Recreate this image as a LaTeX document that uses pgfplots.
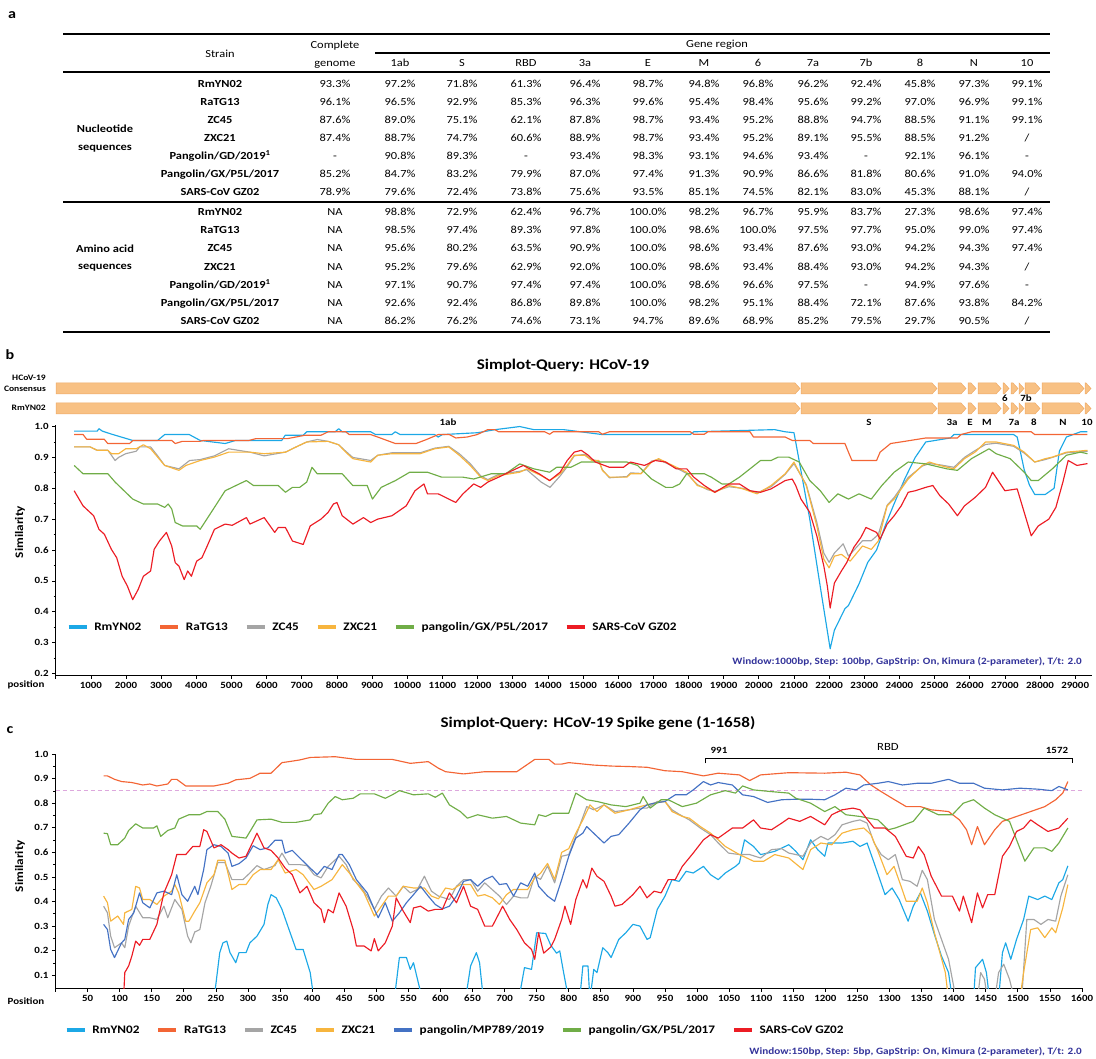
\documentclass[border=0pt]{standalone}
\usepackage{fontspec}
\setmainfont{Carlito}[FakeStretch=1.15]
\usepackage{pgfplots}
\pgfplotsset{compat=1.18}
\definecolor{cRm}{HTML}{1CA8E6}
\definecolor{cRa}{HTML}{F36535}
\definecolor{cZC}{HTML}{A5A5A5}
\definecolor{cZX}{HTML}{F7B53E}
\definecolor{cMP}{HTML}{4472C4}
\definecolor{cGX}{HTML}{70AD47}
\definecolor{cSA}{HTML}{EC1C24}
\definecolor{gfill}{HTML}{F8C184}
\definecolor{gedge}{HTML}{EEAA66}
\definecolor{wtext}{HTML}{33339A}
\definecolor{pinkd}{HTML}{DDA8DD}
\pgfplotsset{
 simplot/.style={
  scale only axis, anchor=south west,
  axis lines=left, axis line style={-, line width=0.9pt},
  tick align=outside, major tick length=3.5pt, minor tick length=2pt,
  tick style={black, line width=0.7pt},
  ticklabel style={font=\bfseries\fontsize{9.5}{11}\selectfont},
  scaled x ticks=false, scaled y ticks=false,
  /pgf/number format/assume math mode=true,
  every axis plot/.append style={line width=1.15pt, line join=round, mark=none},
  legend columns=-1,
  legend style={draw=none, fill=none, inner sep=0pt, font=\bfseries\fontsize{11.5}{13}\selectfont, anchor=west, /tikz/every odd column/.append style={column sep=4pt}, /tikz/every even column/.append style={column sep=15pt}, nodes={inner sep=1.5pt}},
  legend image code/.code={\draw[##1, line width=4.5pt] (0pt,0pt) -- (18pt,0pt);},
 }
}
\def\colx{{335,400,462,526,585,648,704,758,813,866,920,974,1027}}
\newcommand\trow[3]{\node[font=\bfseries\fontsize{10.8}{13}\selectfont] at (220,#1) {#2};
 \foreach \v [count=\i from 0] in {#3} {\pgfmathsetmacro\xx{\colx[\i]}\node at (\xx,#1) {\v};}}
\begin{document}
\begin{tikzpicture}
\useasboundingbox (0pt,0pt) rectangle (1096pt,-1059pt);
\begin{scope}[x=1pt,y=-1pt]
% ---------------- panel a : table
\node[font=\bfseries\fontsize{14}{16}\selectfont] at (12,15) {a};
\begin{scope}[every node/.style={inner sep=0pt, text height=7pt, text depth=2pt, font=\fontsize{10.8}{13}\selectfont}]
\draw[line width=1.6pt] (63,34) -- (1050,34);
\draw[line width=1.1pt] (375,53) -- (1050,53);
\draw[line width=1.3pt] (63,72) -- (1050,72);
\draw[line width=1.8pt] (63,202) -- (1050,202);
\draw[line width=1.8pt] (63,332) -- (1050,332);
\node at (220,55) {Strain};
\node at (335,46) {Complete};
\node at (335,64) {genome};
\node at (717,45) {Gene region};
\foreach \h [count=\i from 1] in {1ab,S,RBD,3a,E,M,6,7a,7b,8,N,10} {\pgfmathsetmacro\xx{\colx[\i]}\node at (\xx,64) {\h};}
\node[font=\bfseries\fontsize{10.8}{13}\selectfont] at (105,130) {Nucleotide};
\node[font=\bfseries\fontsize{10.8}{13}\selectfont] at (105,148) {sequences};
\node[font=\bfseries\fontsize{10.8}{13}\selectfont] at (105,250) {Amino acid};
\node[font=\bfseries\fontsize{10.8}{13}\selectfont] at (105,267) {sequences};
\trow{85}{RmYN02}{93.3\%,97.2\%,71.8\%,61.3\%,96.4\%,98.7\%,94.8\%,96.8\%,96.2\%,92.4\%,45.8\%,97.3\%,99.1\%}
\trow{103}{RaTG13}{96.1\%,96.5\%,92.9\%,85.3\%,96.3\%,99.6\%,95.4\%,98.4\%,95.6\%,99.2\%,97.0\%,96.9\%,99.1\%}
\trow{121}{ZC45}{87.6\%,89.0\%,75.1\%,62.1\%,87.8\%,98.7\%,93.4\%,95.2\%,88.8\%,94.7\%,88.5\%,91.1\%,99.1\%}
\trow{139}{ZXC21}{87.4\%,88.7\%,74.7\%,60.6\%,88.9\%,98.7\%,93.4\%,95.2\%,89.1\%,95.5\%,88.5\%,91.2\%,/}
\trow{157}{Pangolin/GD/2019\textsuperscript{1}}{-,90.8\%,89.3\%,-,93.4\%,98.3\%,93.1\%,94.6\%,93.4\%,-,92.1\%,96.1\%,-}
\trow{175}{Pangolin/GX/P5L/2017}{85.2\%,84.7\%,83.2\%,79.9\%,87.0\%,97.4\%,91.3\%,90.9\%,86.6\%,81.8\%,80.6\%,91.0\%,94.0\%}
\trow{193}{SARS-CoV GZ02}{78.9\%,79.6\%,72.4\%,73.8\%,75.6\%,93.5\%,85.1\%,74.5\%,82.1\%,83.0\%,45.3\%,88.1\%,/}
\trow{213}{RmYN02}{NA,98.8\%,72.9\%,62.4\%,96.7\%,100.0\%,98.2\%,96.7\%,95.9\%,83.7\%,27.3\%,98.6\%,97.4\%}
\trow{231}{RaTG13}{NA,98.5\%,97.4\%,89.3\%,97.8\%,100.0\%,98.6\%,100.0\%,97.5\%,97.7\%,95.0\%,99.0\%,97.4\%}
\trow{249}{ZC45}{NA,95.6\%,80.2\%,63.5\%,90.9\%,100.0\%,98.6\%,93.4\%,87.6\%,93.0\%,94.2\%,94.3\%,97.4\%}
\trow{268}{ZXC21}{NA,95.2\%,79.6\%,62.9\%,92.0\%,100.0\%,98.6\%,93.4\%,88.4\%,93.0\%,94.2\%,94.3\%,/}
\trow{286}{Pangolin/GD/2019\textsuperscript{1}}{NA,97.1\%,90.7\%,97.4\%,97.4\%,100.0\%,98.6\%,96.6\%,97.5\%,-,94.9\%,97.6\%,-}
\trow{304}{Pangolin/GX/P5L/2017}{NA,92.6\%,92.4\%,86.8\%,89.8\%,100.0\%,98.2\%,95.1\%,88.4\%,72.1\%,87.6\%,93.8\%,84.2\%}
\trow{322}{SARS-CoV GZ02}{NA,86.2\%,76.2\%,74.6\%,73.1\%,94.7\%,89.6\%,68.9\%,85.2\%,79.5\%,29.7\%,90.5\%,/}
\end{scope}
% ---------------- panel b header
\node[font=\bfseries\fontsize{14}{16}\selectfont] at (10,355) {b};
\node[font=\bfseries\fontsize{14.8}{17}\selectfont] at (563,365) {Simplot-Query: HCoV-19};
\begin{scope}[every node/.style={font=\bfseries\fontsize{9.5}{11}\selectfont, inner sep=0pt}]
\node[anchor=east, font=\bfseries\fontsize{8.3}{10}\selectfont] at (46,378) {HCoV-19};
\node[anchor=east, font=\bfseries\fontsize{8.3}{10}\selectfont] at (46,389) {Consensus};
\node[anchor=east, font=\bfseries\fontsize{8.3}{10}\selectfont] at (46,408) {RmYN02};
\foreach \a/\b in {56/800,801/937,938/966,968/976,978/1001,1003/1009,1011/1018,1019/1024,1025/1040,1042/1084,1085/1091}{
 \filldraw[fill=gfill, draw=gedge, line width=0.5pt] (\a,383) -- ({\b-5},383) -- (\b,388.5) -- ({\b-5},394) -- (\a,394) -- cycle;
 \filldraw[fill=gfill, draw=gedge, line width=0.5pt] (\a,403) -- ({\b-5},403) -- (\b,408.5) -- ({\b-5},414) -- (\a,414) -- cycle;}
\foreach \g/\x in {1ab/448,S/869,3a/952,E/970,M/987,7a/1014,8/1034,N/1063,10/1087} {\node at (\x,422) {\g};}
\node at (1005,398) {6};
\node at (1026,398) {7b};
\node[font=\bfseries\fontsize{11.5}{13}\selectfont, rotate=90] at (20,532) {Similarity};
\node at (26,685) {position};
\node[font=\bfseries\fontsize{9.7}{11}\selectfont, text=wtext, anchor=east] at (1082,662) {Window:1000bp, Step: 100bp, GapStrip: On, Kimura (2-parameter), T/t: 2.0};
% panel c header
\node[font=\bfseries\fontsize{14}{16}\selectfont] at (10,730) {c};
\node[font=\bfseries\fontsize{14.8}{17}\selectfont] at (598,723) {Simplot-Query: HCoV-19 Spike gene (1-1658)};
\node[font=\bfseries\fontsize{11.5}{13}\selectfont, rotate=90] at (20,866) {Similarity};
\node at (26,1001) {Position};
\node at (719,750) {991};
\node at (1057,750) {1572};
\node[font=\fontsize{11}{13}\selectfont] at (888,747) {RBD};
\node[font=\bfseries\fontsize{9.7}{11}\selectfont, text=wtext, anchor=east] at (1082,1052) {Window:150bp, Step: 5bp, GapStrip: On, Kimura (2-parameter), T/t: 2.0};
\end{scope}
\end{scope}
% ================= panel b axis
\begin{axis}[simplot, at={(55.7pt,-675pt)}, width=1036pt, height=250pt,
 xmin=0, xmax=29470, ymin=0.195, ymax=1.005,
 xtick={0,1000,...,29000},
 xticklabels={{},1000,2000,3000,4000,5000,6000,7000,8000,9000,10000,11000,12000,13000,14000,15000,16000,17000,18000,19000,20000,21000,22000,23000,24000,25000,26000,27000,28000,29000},
 ytick={0.2,0.3,0.4,0.5,0.6,0.7,0.8,0.9,1.0},
 yticklabels={0.2,0.3,0.4,0.5,0.6,0.7,0.8,0.9,1.0},
 minor y tick num=1,
 legend style={at={(rel axis cs:0.010,0.192)}},
 legend entries={RmYN02,RaTG13,ZC45,ZXC21,pangolin/GX/P5L/2017,SARS-CoV GZ02},
]
\addplot[cRm] coordinates {(525,0.985)(1180,0.985)(1230,0.993)(1330,0.985)(1600,0.975)(2190,0.955)(2900,0.955)(3100,0.974)(3800,0.974)(4110,0.955)(4820,0.945)(5120,0.955)(6430,0.955)(6530,0.972)(7040,0.972)(7140,0.983)(7950,0.983)(8050,0.993)(8150,0.983)(8960,0.983)(9100,0.974)(9560,0.974)(9660,0.983)(9800,0.974)(10780,0.974)(10880,0.966)(11000,0.974)(12000,0.980)(12500,0.990)(13200,1.000)(13600,0.990)(14450,0.990)(15550,0.974)(18050,0.974)(18150,0.983)(20450,0.990)(20750,0.983)(21000,0.980)(21050,0.950)(21450,0.700)(21750,0.480)(22030,0.280)(22150,0.340)(22450,0.410)(22550,0.420)(22850,0.490)(23100,0.560)(23350,0.600)(23600,0.680)(23850,0.750)(24150,0.830)(24450,0.900)(24750,0.950)(25450,0.963)(25550,0.974)(27250,0.974)(27350,0.966)(27400,0.940)(27550,0.860)(27700,0.810)(27850,0.780)(28150,0.780)(28400,0.800)(28550,0.920)(28750,0.966)(29150,0.983)(29350,0.983)};
\addplot[cRa] coordinates {(525,0.974)(780,0.974)(880,0.959)(1380,0.959)(1480,0.945)(2100,0.945)(2200,0.955)(3300,0.955)(3400,0.945)(3600,0.952)(4100,0.952)(4200,0.955)(5500,0.955)(5700,0.961)(6600,0.961)(7100,0.972)(7550,0.972)(7750,0.983)(8250,0.983)(8350,0.974)(8960,0.974)(9160,0.966)(9660,0.945)(10250,0.945)(10570,0.959)(10880,0.974)(11200,0.974)(11380,0.963)(11700,0.966)(11990,0.974)(12290,0.990)(12490,0.990)(12600,0.983)(13910,0.983)(14050,0.975)(14150,0.983)(15450,0.983)(15550,0.975)(15750,0.983)(18050,0.983)(18150,0.975)(18450,0.975)(18550,0.983)(19750,0.983)(19850,0.966)(20750,0.966)(20950,0.955)(21450,0.955)(21550,0.945)(22450,0.945)(22550,0.917)(22650,0.890)(23350,0.890)(23450,0.917)(23750,0.945)(24150,0.952)(24750,0.963)(25650,0.963)(25750,0.974)(26050,0.983)(27750,0.983)(27850,0.974)(29350,0.974)};
\addplot[cZC] coordinates {(525,0.934)(980,0.934)(1180,0.923)(1485,0.923)(1690,0.890)(1790,0.900)(1990,0.912)(2290,0.920)(2390,0.934)(2700,0.934)(2900,0.905)(3100,0.874)(3505,0.863)(3810,0.890)(4110,0.893)(4515,0.905)(4920,0.928)(5525,0.917)(5930,0.905)(6535,0.917)(6840,0.934)(7140,0.950)(7440,0.958)(7750,0.952)(8050,0.941)(8250,0.920)(8450,0.900)(8960,0.890)(9160,0.907)(9565,0.915)(10370,0.915)(10780,0.930)(11180,0.936)(11480,0.912)(11790,0.880)(12090,0.840)(12290,0.828)(12600,0.845)(13200,0.855)(13400,0.860)(13810,0.820)(14060,0.803)(14350,0.840)(14550,0.870)(14750,0.905)(15050,0.910)(15250,0.893)(15450,0.888)(15550,0.860)(15750,0.834)(16250,0.838)(16350,0.850)(16650,0.848)(16950,0.888)(17150,0.893)(17550,0.872)(17950,0.848)(18250,0.812)(18550,0.795)(18750,0.790)(19150,0.805)(19550,0.800)(19950,0.785)(20350,0.805)(20750,0.845)(21000,0.880)(21350,0.812)(21650,0.690)(21850,0.590)(22000,0.560)(22150,0.590)(22400,0.620)(22550,0.580)(22950,0.630)(23200,0.630)(23400,0.650)(23650,0.745)(23850,0.770)(24250,0.835)(24650,0.872)(24850,0.880)(25150,0.876)(25550,0.868)(25850,0.900)(26150,0.922)(26450,0.942)(26750,0.946)(27250,0.936)(27550,0.914)(27850,0.885)(28150,0.893)(28350,0.900)(28750,0.915)(29350,0.920)};
\addplot[cZX] coordinates {(525,0.934)(980,0.934)(1180,0.923)(1485,0.923)(1585,0.912)(1790,0.912)(1990,0.928)(2290,0.928)(2495,0.941)(2700,0.928)(2900,0.901)(3100,0.874)(3505,0.858)(3705,0.874)(4110,0.890)(4515,0.901)(4920,0.917)(5525,0.917)(5930,0.912)(6535,0.917)(6840,0.934)(7140,0.950)(7750,0.952)(8050,0.941)(8250,0.917)(8450,0.896)(8960,0.885)(9160,0.907)(9565,0.912)(10370,0.912)(10780,0.928)(11180,0.934)(11480,0.907)(11790,0.874)(12090,0.836)(12290,0.825)(12600,0.841)(13200,0.852)(13400,0.863)(13810,0.841)(14050,0.825)(14350,0.847)(14550,0.874)(14750,0.907)(15050,0.907)(15250,0.890)(15450,0.890)(15550,0.858)(15750,0.836)(16250,0.836)(16350,0.847)(16650,0.847)(16950,0.885)(17150,0.896)(17550,0.874)(17950,0.852)(18250,0.809)(18550,0.798)(18750,0.787)(19150,0.809)(19550,0.798)(19950,0.782)(20350,0.809)(20750,0.847)(21000,0.885)(21350,0.809)(21650,0.678)(21850,0.570)(22000,0.542)(22150,0.580)(22350,0.586)(22600,0.564)(22950,0.613)(23200,0.602)(23400,0.629)(23650,0.743)(23850,0.765)(24250,0.830)(24650,0.874)(24850,0.885)(25150,0.874)(25550,0.863)(25850,0.896)(26150,0.917)(26450,0.950)(26750,0.950)(27250,0.939)(27550,0.917)(27850,0.885)(28150,0.896)(28350,0.901)(28750,0.917)(29350,0.923)};
\addplot[cGX] coordinates {(525,0.874)(778,0.847)(1485,0.847)(1690,0.820)(1890,0.798)(2190,0.765)(2495,0.749)(2900,0.749)(3100,0.738)(3200,0.749)(3300,0.733)(3400,0.689)(3605,0.678)(4010,0.678)(4110,0.667)(4515,0.738)(4820,0.792)(5220,0.814)(5425,0.825)(5625,0.809)(6330,0.809)(6535,0.787)(6735,0.803)(6940,0.803)(7140,0.820)(7290,0.868)(7440,0.847)(8150,0.847)(8450,0.809)(8860,0.809)(9010,0.765)(9260,0.803)(9665,0.825)(10070,0.852)(10575,0.852)(10980,0.836)(11585,0.836)(11890,0.830)(12390,0.847)(12800,0.847)(13200,0.879)(13600,0.863)(14050,0.852)(14250,0.868)(14650,0.868)(14950,0.885)(16250,0.885)(16550,0.874)(16950,0.830)(17350,0.803)(17550,0.803)(17750,0.814)(17950,0.847)(18450,0.847)(18650,0.836)(18950,0.814)(19150,0.814)(19450,0.836)(19750,0.863)(20050,0.890)(20350,0.890)(20550,0.901)(20850,0.901)(21150,0.885)(21450,0.825)(21750,0.792)(22000,0.754)(22250,0.782)(22550,0.765)(22850,0.782)(23200,0.765)(23500,0.809)(23850,0.852)(24250,0.885)(24750,0.879)(25350,0.863)(25650,0.858)(26050,0.896)(26550,0.928)(26750,0.912)(27150,0.896)(27550,0.852)(27750,0.825)(27950,0.825)(28350,0.863)(28750,0.907)(29150,0.917)(29350,0.912)};
\addplot[cSA] coordinates {(525,0.792)(778,0.743)(1080,0.711)(1230,0.667)(1385,0.651)(1585,0.602)(1735,0.575)(1890,0.515)(2040,0.483)(2170,0.445)(2190,0.439)(2345,0.472)(2495,0.515)(2700,0.532)(2800,0.602)(2950,0.629)(3150,0.657)(3300,0.613)(3400,0.559)(3505,0.548)(3655,0.504)(3755,0.532)(3860,0.515)(4010,0.564)(4160,0.575)(4310,0.613)(4515,0.667)(4820,0.684)(5020,0.680)(5425,0.705)(5525,0.684)(5930,0.705)(6230,0.657)(6330,0.673)(6535,0.673)(6735,0.629)(7040,0.618)(7240,0.678)(7545,0.700)(7750,0.722)(7900,0.749)(8000,0.754)(8150,0.711)(8455,0.684)(8755,0.705)(8960,0.689)(9160,0.700)(9565,0.711)(9970,0.743)(10220,0.792)(10475,0.814)(10575,0.782)(10880,0.782)(11180,0.765)(11380,0.754)(11585,0.782)(11890,0.814)(12090,0.803)(12290,0.820)(12600,0.836)(13000,0.858)(13300,0.874)(13750,0.847)(14050,0.825)(14350,0.852)(14550,0.890)(14750,0.917)(14950,0.923)(15150,0.907)(15350,0.885)(15750,0.868)(16150,0.868)(16350,0.885)(16750,0.874)(17050,0.890)(17350,0.885)(17650,0.863)(17950,0.863)(18150,0.836)(18450,0.809)(18750,0.787)(19150,0.814)(19450,0.814)(19750,0.792)(20050,0.787)(20350,0.798)(20750,0.825)(20950,0.830)(21050,0.809)(21200,0.765)(21450,0.722)(21650,0.646)(21850,0.548)(21950,0.483)(22030,0.412)(22150,0.493)(22350,0.532)(22500,0.559)(22700,0.608)(22900,0.640)(23050,0.673)(23350,0.657)(23450,0.635)(23650,0.684)(23850,0.711)(24050,0.743)(24250,0.787)(24450,0.792)(24750,0.803)(24950,0.809)(25150,0.776)(25400,0.749)(25650,0.711)(25850,0.743)(26150,0.770)(26450,0.803)(26650,0.852)(27000,0.792)(27350,0.798)(27550,0.722)(27750,0.646)(27950,0.678)(28250,0.700)(28450,0.738)(28650,0.820)(28800,0.890)(29050,0.874)(29350,0.880)};
\end{axis}
% ================= panel c axis
\begin{axis}[simplot, at={(55.5pt,-988.3pt)}, width=1026.5pt, height=234.3pt,
 xmin=0, xmax=1600, ymin=0.047, ymax=1.0,
 xtick={0,50,...,1600},
 xticklabels={{},50,100,150,200,250,300,350,400,450,500,550,600,650,700,750,800,850,900,950,1000,1050,1100,1150,1200,1250,1300,1350,1400,1450,1500,1550,1600},
 ytick={0.1,0.2,0.3,0.4,0.5,0.6,0.7,0.8,0.9,1.0},
 yticklabels={0.1,0.2,0.3,0.4,0.5,0.6,0.7,0.8,0.9,1.0},
 minor y tick num=1,
 legend style={at={(rel axis cs:0.0085,-0.178)}},
 legend entries={RmYN02,RaTG13,ZC45,ZXC21,pangolin/MP789/2019,pangolin/GX/P5L/2017,SARS-CoV GZ02},
]
\addplot[pinkd, line width=1.1pt, dash pattern=on 4pt off 3pt, forget plot] coordinates {(0,0.85)(1600,0.85)};
\addplot[cRm] coordinates {(247,0)(256,0.192)(261,0.232)(267,0.239)(272,0.192)(281,0.151)(286,0.192)(297,0.192)(303,0.232)(314,0.259)(325,0.307)(331,0.388)(336,0.428)(344,0.415)(353,0.368)(364,0.286)(375,0.205)(386,0.205)(397,0.111)(403,0)(528,0)(536,0.172)(547,0.172)(553,0.124)(558,0.151)(572,0)(639,0)(647,0.138)(656,0.192)(661,0.151)(667,0)(722,0)(731,0.131)(742,0.124)(750,0.273)(764,0.27)(772,0.222)(781,0.19)(786,0.199)(792,0.111)(800,0)(817,0)(822,0.138)(830,0.138)(833,0)(839,0.124)(844,0.111)(853,0.212)(861,0.192)(866,0.172)(878,0.246)(889,0.273)(900,0.307)(911,0.300)(922,0.246)(927,0.253)(938,0.368)(950,0.422)(961,0.489)(972,0.482)(983,0.523)(994,0.516)(1010,0.543)(1021,0.509)(1033,0.489)(1044,0.516)(1060,0.543)(1066,0.557)(1074,0.651)(1088,0.624)(1099,0.591)(1110,0.597)(1121,0.604)(1143,0.631)(1154,0.604)(1165,0.570)(1177,0.651)(1188,0.611)(1199,0.584)(1204,0.638)(1226,0.638)(1243,0.645)(1254,0.624)(1265,0.638)(1276,0.557)(1293,0.428)(1304,0.455)(1315,0.408)(1329,0.320)(1337,0.381)(1348,0.435)(1359,0.361)(1370,0.266)(1381,0.178)(1392,0.111)(1398,0)(1431,0)(1434,0.131)(1445,0.165)(1451,0.111)(1456,0)(1470,0)(1476,0.192)(1481,0.232)(1489,0.165)(1498,0.246)(1509,0.327)(1517,0.422)(1531,0.408)(1542,0.422)(1553,0.408)(1564,0.476)(1570,0.489)(1578,0.545)};
\addplot[cRa] coordinates {(75,0.911)(81,0.911)(92,0.897)(103,0.888)(119,0.884)(136,0.874)(147,0.878)(158,0.870)(175,0.878)(181,0.897)(189,0.897)(203,0.870)(247,0.870)(269,0.881)(281,0.895)(303,0.901)(319,0.922)(336,0.922)(353,0.965)(364,0.969)(381,0.976)(397,0.986)(436,0.989)(469,0.978)(525,0.978)(553,0.962)(581,0.969)(597,0.942)(608,0.928)(636,0.919)(669,0.928)(719,0.928)(747,0.978)(769,0.978)(778,0.959)(789,0.959)(800,0.965)(839,0.955)(866,0.951)(894,0.949)(922,0.946)(950,0.932)(977,0.928)(1010,0.911)(1033,0.922)(1066,0.915)(1082,0.892)(1099,0.915)(1143,0.924)(1199,0.922)(1232,0.926)(1254,0.915)(1271,0.874)(1287,0.847)(1304,0.820)(1326,0.786)(1348,0.786)(1365,0.773)(1392,0.766)(1409,0.732)(1420,0.692)(1428,0.631)(1437,0.705)(1448,0.631)(1464,0.692)(1476,0.726)(1498,0.746)(1520,0.766)(1542,0.786)(1559,0.814)(1570,0.841)(1578,0.888)};
\addplot[cZC] coordinates {(75,0.381)(81,0.354)(86,0.259)(92,0.212)(103,0.232)(108,0.212)(114,0.300)(125,0.381)(136,0.334)(147,0.334)(158,0.327)(169,0.381)(175,0.334)(186,0.408)(197,0.368)(206,0.259)(211,0.232)(217,0.276)(225,0.286)(233,0.395)(242,0.462)(253,0.559)(264,0.559)(275,0.489)(292,0.489)(303,0.516)(314,0.546)(325,0.530)(342,0.546)(353,0.597)(364,0.550)(381,0.550)(392,0.546)(403,0.509)(414,0.496)(425,0.543)(442,0.584)(453,0.550)(464,0.489)(475,0.462)(486,0.422)(497,0.368)(508,0.422)(519,0.455)(531,0.422)(542,0.462)(553,0.435)(564,0.449)(575,0.503)(586,0.442)(597,0.422)(614,0.408)(625,0.462)(636,0.489)(647,0.489)(658,0.442)(669,0.476)(692,0.422)(703,0.388)(714,0.422)(725,0.415)(736,0.415)(747,0.503)(756,0.49)(767,0.545)(778,0.476)(789,0.584)(800,0.591)(811,0.665)(828,0.786)(839,0.773)(855,0.793)(872,0.766)(894,0.773)(911,0.780)(922,0.780)(938,0.807)(950,0.807)(961,0.773)(972,0.755)(988,0.732)(1005,0.699)(1021,0.672)(1033,0.638)(1049,0.597)(1066,0.591)(1082,0.591)(1099,0.577)(1116,0.611)(1132,0.615)(1143,0.597)(1154,0.591)(1165,0.584)(1177,0.638)(1193,0.665)(1204,0.651)(1215,0.672)(1226,0.712)(1243,0.726)(1254,0.732)(1265,0.719)(1276,0.638)(1287,0.591)(1298,0.570)(1309,0.591)(1320,0.489)(1332,0.482)(1343,0.462)(1351,0.527)(1359,0.489)(1370,0.327)(1381,0.246)(1392,0.165)(1404,0)(1437,0)(1442,0.111)(1448,0.084)(1453,0)(1464,0)(1470,0.111)(1478,0.145)(1487,0.084)(1495,0)(1506,0)(1514,0.327)(1525,0.327)(1536,0.307)(1547,0.327)(1559,0.320)(1567,0.422)(1578,0.509)};
\addplot[cZX] coordinates {(75,0.422)(81,0.395)(86,0.320)(97,0.341)(106,0.307)(108,0.354)(119,0.368)(125,0.462)(131,0.455)(136,0.408)(147,0.408)(158,0.388)(169,0.422)(181,0.442)(186,0.469)(192,0.435)(203,0.320)(208,0.320)(217,0.361)(225,0.395)(236,0.476)(247,0.509)(253,0.568)(264,0.568)(275,0.449)(286,0.469)(297,0.469)(308,0.509)(319,0.530)(336,0.530)(347,0.570)(358,0.516)(375,0.530)(386,0.509)(403,0.449)(414,0.462)(431,0.489)(447,0.550)(458,0.516)(469,0.476)(481,0.435)(497,0.341)(508,0.381)(519,0.422)(531,0.422)(542,0.462)(558,0.455)(575,0.455)(586,0.422)(597,0.411)(608,0.455)(619,0.449)(631,0.469)(647,0.469)(658,0.422)(669,0.428)(681,0.415)(692,0.388)(703,0.428)(714,0.449)(736,0.449)(747,0.496)(756,0.515)(767,0.555)(778,0.49)(789,0.600)(800,0.615)(811,0.678)(822,0.732)(833,0.793)(844,0.766)(855,0.793)(872,0.759)(894,0.773)(911,0.786)(933,0.800)(950,0.807)(961,0.766)(977,0.746)(988,0.739)(1005,0.705)(1021,0.678)(1033,0.651)(1044,0.624)(1066,0.591)(1088,0.564)(1104,0.564)(1121,0.591)(1143,0.577)(1165,0.530)(1177,0.611)(1193,0.638)(1210,0.631)(1226,0.678)(1243,0.692)(1260,0.699)(1271,0.672)(1282,0.604)(1296,0.509)(1307,0.543)(1318,0.462)(1326,0.401)(1343,0.401)(1351,0.455)(1359,0.395)(1370,0.273)(1387,0.111)(1392,0)(1503,0)(1509,0.111)(1520,0.286)(1531,0.293)(1542,0.253)(1553,0.293)(1559,0.273)(1570,0.374)(1578,0.469)};
\addplot[cMP] coordinates {(75,0.307)(81,0.286)(86,0.205)(92,0.172)(103,0.232)(108,0.246)(114,0.327)(122,0.354)(131,0.435)(136,0.395)(147,0.374)(158,0.435)(169,0.442)(181,0.428)(189,0.509)(197,0.428)(206,0.401)(217,0.462)(222,0.428)(231,0.530)(236,0.611)(247,0.631)(258,0.624)(269,0.597)(275,0.543)(286,0.554)(297,0.577)(308,0.627)(319,0.611)(331,0.618)(342,0.649)(353,0.649)(358,0.597)(369,0.608)(386,0.564)(397,0.536)(408,0.509)(419,0.543)(431,0.530)(442,0.591)(447,0.591)(458,0.550)(469,0.489)(486,0.435)(497,0.368)(503,0.334)(514,0.395)(525,0.320)(536,0.354)(547,0.395)(558,0.428)(569,0.462)(581,0.422)(592,0.388)(603,0.370)(614,0.381)(625,0.422)(636,0.482)(647,0.489)(658,0.462)(669,0.489)(681,0.503)(692,0.469)(703,0.473)(714,0.422)(725,0.476)(736,0.462)(747,0.516)(753,0.462)(767,0.422)(778,0.401)(789,0.489)(800,0.584)(811,0.658)(822,0.678)(828,0.705)(844,0.665)(855,0.638)(866,0.665)(878,0.672)(894,0.719)(911,0.773)(922,0.793)(933,0.800)(950,0.807)(966,0.834)(983,0.834)(994,0.854)(1010,0.888)(1021,0.874)(1033,0.884)(1055,0.874)(1071,0.834)(1088,0.827)(1110,0.803)(1132,0.814)(1154,0.816)(1177,0.816)(1199,0.814)(1215,0.834)(1232,0.861)(1248,0.854)(1260,0.874)(1282,0.881)(1298,0.888)(1320,0.874)(1343,0.881)(1365,0.881)(1392,0.897)(1409,0.881)(1431,0.881)(1448,0.861)(1476,0.854)(1503,0.861)(1531,0.857)(1553,0.851)(1564,0.868)(1578,0.854)};
\addplot[cGX] coordinates {(75,0.678)(81,0.676)(86,0.631)(97,0.631)(108,0.658)(114,0.689)(125,0.716)(136,0.699)(153,0.699)(158,0.708)(164,0.665)(175,0.689)(186,0.699)(192,0.735)(208,0.753)(225,0.753)(236,0.766)(253,0.766)(264,0.735)(275,0.665)(297,0.658)(314,0.732)(336,0.735)(353,0.722)(375,0.722)(397,0.732)(403,0.753)(414,0.757)(425,0.800)(436,0.827)(447,0.814)(464,0.820)(475,0.838)(497,0.838)(514,0.820)(525,0.834)(536,0.851)(558,0.834)(581,0.838)(592,0.824)(603,0.841)(614,0.793)(631,0.766)(642,0.739)(658,0.753)(681,0.739)(703,0.746)(725,0.719)(747,0.712)(753,0.753)(764,0.746)(775,0.759)(800,0.759)(811,0.841)(828,0.814)(844,0.807)(866,0.793)(889,0.786)(911,0.800)(916,0.827)(927,0.780)(944,0.814)(955,0.814)(977,0.786)(999,0.800)(1021,0.834)(1044,0.851)(1060,0.841)(1071,0.870)(1088,0.854)(1116,0.847)(1143,0.841)(1154,0.820)(1177,0.800)(1199,0.766)(1215,0.786)(1232,0.753)(1254,0.746)(1282,0.732)(1298,0.692)(1309,0.699)(1337,0.726)(1354,0.780)(1376,0.753)(1398,0.753)(1415,0.800)(1431,0.814)(1448,0.780)(1464,0.753)(1487,0.726)(1498,0.651)(1511,0.564)(1525,0.618)(1542,0.618)(1553,0.604)(1564,0.638)(1578,0.699)};
\addplot[cSA] coordinates {(106,0)(108,0.111)(114,0.138)(119,0.178)(125,0.239)(131,0.222)(136,0.246)(147,0.246)(158,0.307)(169,0.435)(181,0.509)(189,0.591)(203,0.591)(214,0.624)(225,0.624)(231,0.692)(236,0.685)(247,0.618)(258,0.631)(269,0.611)(275,0.597)(286,0.577)(297,0.584)(314,0.678)(325,0.618)(336,0.608)(347,0.577)(358,0.536)(369,0.509)(381,0.435)(392,0.462)(403,0.395)(414,0.368)(419,0.314)(425,0.368)(433,0.354)(442,0.435)(453,0.381)(464,0.286)(469,0.219)(481,0.219)(492,0.199)(497,0.249)(503,0.199)(514,0.232)(525,0.300)(531,0.415)(542,0.361)(553,0.314)(558,0.374)(569,0.381)(581,0.361)(592,0.368)(603,0.368)(614,0.435)(625,0.395)(636,0.462)(647,0.381)(658,0.368)(669,0.300)(681,0.300)(697,0.381)(708,0.327)(719,0.286)(731,0.232)(742,0.205)(747,0.165)(753,0.273)(761,0.19)(772,0.215)(778,0.246)(789,0.327)(794,0.381)(803,0.307)(811,0.408)(822,0.489)(828,0.455)(836,0.536)(844,0.503)(855,0.482)(866,0.422)(872,0.381)(883,0.388)(900,0.428)(911,0.462)(922,0.415)(933,0.442)(944,0.435)(955,0.489)(966,0.489)(977,0.543)(994,0.597)(1010,0.651)(1021,0.672)(1033,0.658)(1055,0.699)(1071,0.699)(1088,0.732)(1099,0.699)(1116,0.692)(1132,0.719)(1143,0.739)(1160,0.726)(1177,0.746)(1199,0.712)(1210,0.753)(1226,0.773)(1243,0.780)(1254,0.773)(1265,0.735)(1276,0.699)(1293,0.699)(1309,0.665)(1326,0.584)(1337,0.577)(1345,0.624)(1354,0.591)(1365,0.503)(1381,0.422)(1398,0.422)(1409,0.361)(1415,0.422)(1428,0.314)(1437,0.435)(1445,0.374)(1453,0.428)(1464,0.428)(1476,0.584)(1487,0.624)(1498,0.685)(1509,0.699)(1520,0.732)(1531,0.712)(1547,0.685)(1564,0.699)(1578,0.739)};
\draw[line width=1.6pt] (axis cs:1013,0.962) -- (axis cs:1013,0.982) -- (axis cs:1585,0.982) -- (axis cs:1585,0.962);
\end{axis}
\end{tikzpicture}
\end{document}
